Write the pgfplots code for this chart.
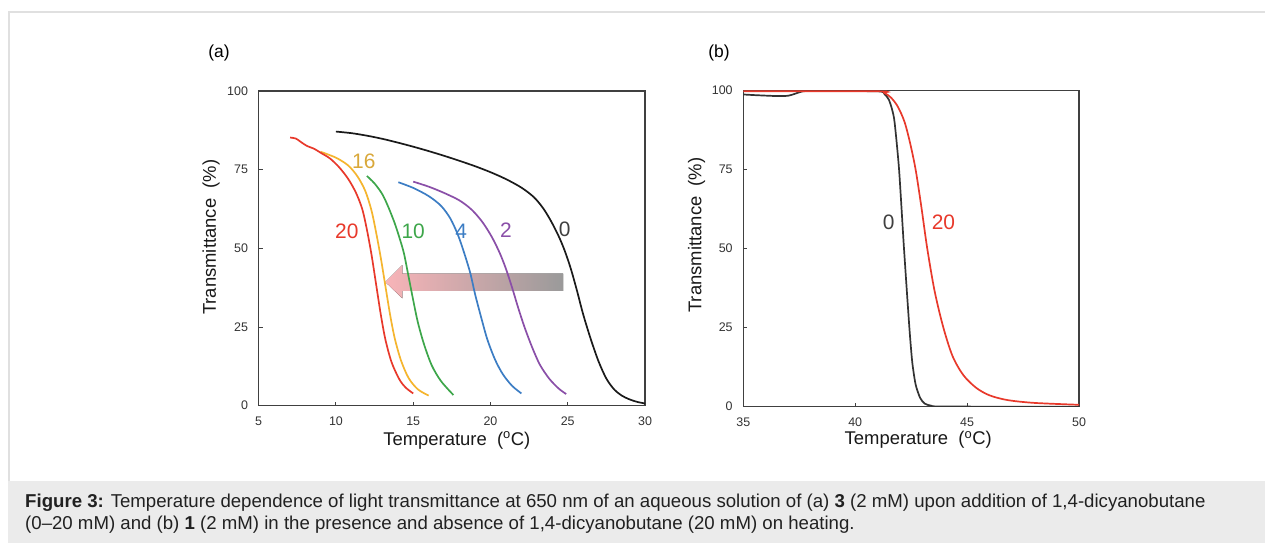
\documentclass[border=0pt]{standalone}
\usepackage{fontspec}
\setmainfont{Liberation Sans}
\usepackage{pgfplots}
\pgfplotsset{compat=1.18}

\definecolor{cred}{HTML}{E8392B}
\definecolor{cgold}{HTML}{F5B52E}
\definecolor{cgoldtxt}{HTML}{D9A83A}
\definecolor{cgreen}{HTML}{3DA64A}
\definecolor{cblue}{HTML}{3C7DC4}
\definecolor{cpurple}{HTML}{8A4FA8}
\definecolor{cblack}{HTML}{1A1A1A}
\definecolor{frame}{HTML}{404040}
\definecolor{capbg}{HTML}{EBEBEB}
\definecolor{border}{HTML}{E0E0E0}
\definecolor{arrowpink}{HTML}{F8B4B8}
\definecolor{arrowgray}{HTML}{9A9A9A}

\pgfplotsset{
  panel/.style={
    scale only axis,
    ymin=0, ymax=100,
    ytick={0,25,50,75,100},
    tick align=inside,
    tick pos=left,
    major tick length=4bp,
    axis line style={frame, line width=1.4bp},
    every tick/.style={frame, line width=1bp},
    /pgf/number format/assume math mode=true,
    tick label style={font=\fontsize{12.5}{12.5}\selectfont, text=black!80, inner sep=0pt},
    xticklabel style={anchor=center, yshift=-16bp},
    yticklabel style={anchor=east, xshift=-10.5bp},
    label style={font=\fontsize{18.5}{18.5}\selectfont, text=black!90},
    every axis plot/.append style={line width=1.7bp, smooth, no markers},
  }
}

\begin{document}
\begin{tikzpicture}[x=1bp, y=1bp]
\path[use as bounding box, fill=white] (0,0) rectangle (1265,543);
\fill[capbg] (8,0) rectangle (1265,62);
\draw[border, line width=1.5bp] (9,62) -- (9,531) -- (1265,531);

\node[font=\fontsize{17.5}{17.5}\selectfont] at (219,490) {(a)};
\node[font=\fontsize{17.5}{17.5}\selectfont] at (719,490) {(b)};

\begin{axis}[panel,
  at={(258.7bp,137.3bp)}, anchor=south west,
  width=386.3bp, height=314.7bp,
  xmin=5, xmax=30, xtick={5,10,15,20,25,30},
  xlabel={Temperature~~(\textsuperscript{o}C)},
  ylabel={Transmittance~~(\%)},
  xlabel style={at={(axis description cs:0.513,-0.110)}, anchor=center},
  ylabel style={at={(axis description cs:-0.1235,0.535)}, anchor=center},
]
\fill[left color=arrowpink, right color=arrowgray]
  (axis cs:24.7,42.0) -- (axis cs:14.3,42.0) -- (axis cs:14.3,44.7)
  -- (axis cs:13.2,39.3) -- (axis cs:14.3,34.1) -- (axis cs:14.3,36.5)
  -- (axis cs:24.7,36.5) -- cycle;
% 0 mM
\addplot[cblack] coordinates {(10,87.1) (11,86.6) (12,85.8) (13,84.8) (14,83.6) (15,82.3) (16,80.9) (17,79.4) (18,77.8) (19,76.1) (20,74.2) (21,72.0) (22,69.3) (22.8,66.3) (23.4,62.8) (23.9,58.8) (24.4,54) (24.8,49.3) (25.2,43.5) (25.6,36.5) (26.0,29) (26.5,21) (27.0,14) (27.5,8.6) (28,5.2) (28.5,3.2) (29,2.0) (29.5,1.2) (30,0.7)};
% 2 mM
\addplot[cpurple] coordinates {(15.0,71.2) (16,69.6) (17,67.6) (18,65.2) (18.8,62.2) (19.5,58.2) (20.1,53.5) (20.6,48.5) (21.0,43.5) (21.4,37.5) (21.8,31) (22.2,25) (22.7,18.5) (23.2,13) (23.8,8.6) (24.4,5.5) (24.9,3.7)};
% 4 mM
\addplot[cblue] coordinates {(14.04,71.0) (15,69.2) (16,66.6) (16.8,63.5) (17.4,59.5) (17.9,54.2) (18.3,48.5) (18.7,42) (19.0,35.5) (19.4,28) (19.8,21) (20.3,14.6) (20.8,10) (21.4,6.3) (22.0,3.9)};
% 10 mM
\addplot[cgreen] coordinates {(12.0,73.0) (12.5,70.6) (13.0,67.2) (13.4,63) (13.8,58) (14.1,53.5) (14.4,48.4) (14.7,41) (15.0,33.5) (15.3,26.5) (15.7,19.5) (16.2,12.8) (16.8,7.8) (17.6,3.4)};
% 16 mM
\addplot[cgold] coordinates {(9.0,80.7) (10,78.8) (10.8,76.3) (11.4,72.8) (11.9,68.2) (12.3,62) (12.6,55) (12.9,47) (13.2,38) (13.5,29) (13.8,21.5) (14.2,14.5) (14.7,8.8) (15.3,5.2) (16.0,3.2)};
% 20 mM
\addplot[cred] coordinates {(7.03,85.2) (7.4,84.9) (7.7,83.9) (8.1,82.6) (8.6,81.6) (9.0,80.4) (9.6,78.6) (10.2,75.8) (10.8,72) (11.3,67.6) (11.7,62.5) (12.0,56) (12.3,48) (12.6,38.5) (12.9,29) (13.2,21) (13.6,13.8) (14.1,8.4) (14.5,5.8) (15.0,3.9)};
\begin{scope}[every node/.style={font=\fontsize{21}{21}\selectfont}]
\node[text=cred] at (axis cs:10.7,55.3) {20};
\node[text=cgoldtxt] at (axis cs:11.8,77.5) {16};
\node[text=cgreen] at (axis cs:15.0,55.3) {10};
\node[text=cblue] at (axis cs:18.1,55.3) {4};
\node[text=cpurple] at (axis cs:21.0,55.8) {2};
\node[text=black!75] at (axis cs:24.8,56) {0};
\end{scope}
\end{axis}

\begin{axis}[panel,
  at={(743.3bp,136.3bp)}, anchor=south west,
  width=335.7bp, height=316bp,
  xmin=35, xmax=50, xtick={35,40,45,50},
  xlabel={Temperature~~(\textsuperscript{o}C)},
  ylabel={Transmittance~~(\%)},
  xlabel style={at={(axis description cs:0.521,-0.105)}, anchor=center},
  ylabel style={at={(axis description cs:-0.1388,0.543)}, anchor=center},
]
\addplot[black!80, tension=0.4] coordinates {(35,98.8) (35.5,98.6) (36.5,98.3) (37.0,98.4) (37.3,99.0) (37.6,99.7) (38,99.9) (41.0,99.8) (41.3,99.0) (41.5,97.2) (41.65,94) (41.76,90) (41.96,75) (42.18,50) (42.42,25) (42.55,14) (42.7,7) (42.9,2.8) (43.1,1.0) (43.4,0.3) (44,0.05) (50,0)};
\addplot[cred, tension=0.5] coordinates {(35,99.8) (41.0,99.8) (41.3,99.3) (41.6,97.8) (41.9,95) (42.2,90.2) (42.45,83.5) (42.7,75) (42.95,63.5) (43.22,50) (43.55,36.5) (43.94,25) (44.35,16) (44.83,10) (45.4,6) (46.0,3.6) (46.8,2.1) (48,1.2) (50,0.6)};
\node[font=\fontsize{21}{21}\selectfont, text=black!75] at (axis cs:41.5,58.2) {0};
\node[font=\fontsize{21}{21}\selectfont, text=cred] at (axis cs:43.94,58.2) {20};
\end{axis}

\begin{scope}[every node/.style={font=\fontsize{18.7}{18.7}\selectfont, text=black!87, inner sep=0pt, anchor=base west}]
\node at (25,35) {\textbf{Figure 3:} Temperature dependence of light transmittance at 650 nm of an aqueous solution of (a) \textbf{3} (2 mM) upon addition of 1,4-dicyanobutane};
\node at (25,13) {(0–20 mM) and (b) \textbf{1} (2 mM) in the presence and absence of 1,4-dicyanobutane (20 mM) on heating.};
\end{scope}
\end{tikzpicture}
\end{document}
